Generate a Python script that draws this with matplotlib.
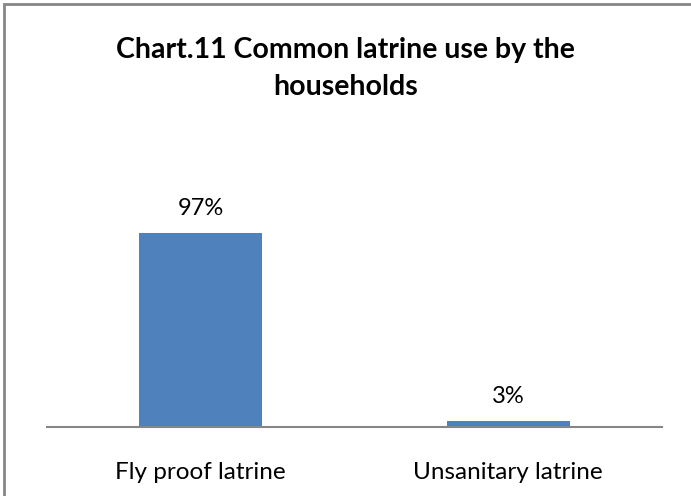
import matplotlib
matplotlib.use('Agg')
import matplotlib.pyplot as plt
from matplotlib.patches import Rectangle

# Latrine types and share of households (%)
categories = ['Fly proof latrine', 'Unsanitary latrine']
shares = [97, 3]
value_labels = ['97%', '3%']

bar_color = '#4F81BD'
grey = '#868686'

plt.rcParams['font.family'] = ['Lato', 'DejaVu Sans']

fig = plt.figure(figsize=(6.91, 4.96), dpi=100)
ax = fig.add_axes([0.068, 0.139, 0.890, 0.403])

x = range(len(categories))
ax.bar(x, shares, width=0.4, color=bar_color)
for xi, val, txt in zip(x, shares, value_labels):
    ax.annotate(txt, (xi, val), xytext=(0, 10), textcoords='offset points',
                ha='center', va='bottom', fontsize=17, color='black')

ax.set_xlim(-0.5, len(categories) - 0.5)
ax.set_ylim(0, 100)
ax.set_xticks(list(x))
ax.set_xticklabels(categories, fontsize=17.5)
ax.tick_params(axis='x', length=0, pad=25)
ax.set_yticks([])
for side in ['top', 'right', 'left']:
    ax.spines[side].set_visible(False)
ax.spines['bottom'].set_color(grey)
ax.spines['bottom'].set_linewidth(1.5)

fig.text(0.5, 0.862, 'Chart.11 Common latrine use by the\nhouseholds',
         ha='center', va='center', fontsize=20.5, fontweight='bold',
         linespacing=1.55)

# chart frame
fig.patches.append(Rectangle((4 / 691, -0.1), 1.2, 1.1 - 4 / 496,
                             transform=fig.transFigure, fill=False,
                             edgecolor=grey, linewidth=2))

fig.savefig('out.png', dpi=100)
